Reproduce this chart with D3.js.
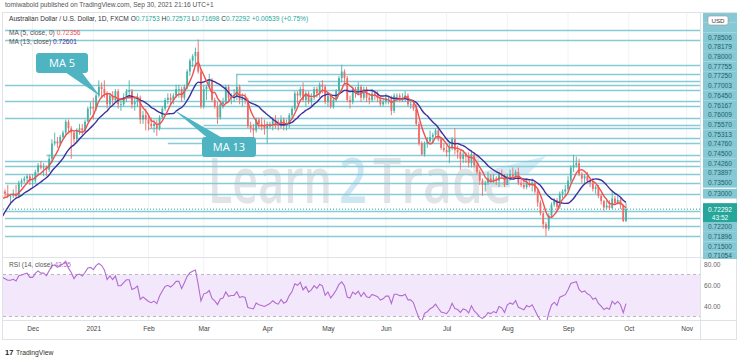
<!DOCTYPE html>
<html><head><meta charset="utf-8">
<script src="https://cdn.jsdelivr.net/npm/d3@7/dist/d3.min.js"></script>
<style>
body{margin:0;background:#fff;}
svg{display:block;font-family:"Liberation Sans",Arial,sans-serif;}
</style></head>
<body><svg id="c" width="740" height="361"></svg>
<script>
// ---------- DATA ----------
const firstDate = "2020-10-27";           // first (warm-up) bar
const holidays = ["2020-12-25","2021-01-01"];
const warmup = 15;                         // bars before the first visible bar (2020-11-17)
const open = [
0.7120,0.7130,0.7080,0.7030,0.7030,0.7040,0.7120,0.7160,0.7270,0.7270,0.7230,0.7280,0.7260,0.7250,0.7290,
0.7310,0.7300,0.7290,0.7290,0.7300,0.7290,0.7350,0.7360,0.7370,0.7380,0.7360,0.7360,0.7400,0.7430,0.7420,
0.7420,0.7410,0.7460,0.7530,0.7540,0.7530,0.7560,0.7580,0.7630,0.7600,0.7580,0.7550,0.7590,0.7600,0.7590,
0.7630,0.7690,0.7700,0.7690,0.7750,0.7790,0.7780,0.7760,0.7710,0.7750,0.7730,0.7770,0.7710,0.7710,0.7740,
0.7770,0.7770,0.7710,0.7720,0.7740,0.7640,0.7660,0.7640,0.7620,0.7610,0.7620,0.7600,0.7650,0.7690,0.7730,
0.7740,0.7730,0.7750,0.7780,0.7780,0.7740,0.7790,0.7860,0.7910,0.7930,0.7950,0.7860,0.7700,0.7780,0.7790,
0.7820,0.7730,0.7700,0.7650,0.7710,0.7720,0.7790,0.7740,0.7750,0.7750,0.7790,0.7730,0.7740,0.7730,0.7610,
0.7600,0.7590,0.7640,0.7620,0.7610,0.7600,0.7610,0.7620,0.7640,0.7620,0.7610,0.7640,0.7610,0.7620,0.7660,
0.7690,0.7760,0.7750,0.7780,0.7730,0.7760,0.7720,0.7740,0.7780,0.7760,0.7800,0.7790,0.7720,0.7750,0.7700,
0.7730,0.7770,0.7830,0.7860,0.7830,0.7730,0.7720,0.7780,0.7760,0.7790,0.7740,0.7780,0.7740,0.7730,0.7760,
0.7750,0.7740,0.7710,0.7720,0.7740,0.7740,0.7680,0.7750,0.7750,0.7740,0.7740,0.7750,0.7710,0.7710,0.7690,
0.7620,0.7530,0.7480,0.7530,0.7540,0.7560,0.7570,0.7590,0.7550,0.7510,0.7500,0.7490,0.7510,0.7550,0.7500,
0.7490,0.7460,0.7480,0.7470,0.7440,0.7480,0.7430,0.7400,0.7360,0.7340,0.7350,0.7370,0.7360,0.7370,0.7360,
0.7390,0.7380,0.7340,0.7380,0.7390,0.7380,0.7400,0.7350,0.7340,0.7330,0.7350,0.7340,0.7350,0.7310,0.7260,
0.7210,0.7160,0.7140,0.7200,0.7250,0.7270,0.7240,0.7300,0.7310,0.7320,0.7360,0.7420,0.7430,0.7440,0.7390,
0.7370,0.7380,0.7360,0.7350,0.7322,0.7330,0.7290,0.7267,0.7237,0.7246,0.7235,0.7278,0.7256,0.7271,0.7247,
0.71753];
const high = [
0.7158,0.7140,0.7100,0.7045,0.7060,0.7140,0.7190,0.7280,0.7290,0.7340,0.7290,0.7300,0.7280,0.7290,0.7330,
0.7320,0.7340,0.7300,0.7320,0.7340,0.7360,0.7370,0.7380,0.7390,0.7390,0.7390,0.7410,0.7440,0.7450,0.7440,
0.7430,0.7480,0.7550,0.7580,0.7560,0.7570,0.7590,0.7640,0.7640,0.7610,0.7590,0.7600,0.7620,0.7620,0.7640,
0.7700,0.7720,0.7740,0.7760,0.7820,0.7810,0.7820,0.7770,0.7760,0.7770,0.7780,0.7780,0.7730,0.7760,0.7780,
0.7820,0.7780,0.7740,0.7760,0.7750,0.7680,0.7690,0.7660,0.7650,0.7640,0.7640,0.7660,0.7700,0.7740,0.7760,
0.7760,0.7760,0.7800,0.7800,0.7790,0.7800,0.7870,0.7920,0.7940,0.7970,0.8007,0.7870,0.7800,0.7800,0.7850,
0.7830,0.7740,0.7720,0.7720,0.7740,0.7800,0.7800,0.7760,0.7780,0.7850,0.7800,0.7760,0.7760,0.7740,0.7630,
0.7620,0.7650,0.7650,0.7650,0.7640,0.7630,0.7630,0.7650,0.7660,0.7640,0.7660,0.7650,0.7640,0.7670,0.7700,
0.7770,0.7770,0.7790,0.7810,0.7770,0.7770,0.7760,0.7790,0.7790,0.7810,0.7820,0.7800,0.7760,0.7760,0.7740,
0.7780,0.7840,0.7891,0.7870,0.7840,0.7750,0.7790,0.7790,0.7810,0.7800,0.7790,0.7790,0.7760,0.7780,0.7770,
0.7770,0.7750,0.7740,0.7760,0.7750,0.7750,0.7760,0.7760,0.7760,0.7760,0.7770,0.7760,0.7730,0.7720,0.7710,
0.7630,0.7540,0.7540,0.7560,0.7590,0.7580,0.7600,0.7600,0.7560,0.7530,0.7520,0.7530,0.7560,0.7600,0.7520,
0.7500,0.7500,0.7490,0.7490,0.7500,0.7490,0.7440,0.7410,0.7370,0.7360,0.7400,0.7390,0.7390,0.7380,0.7400,
0.7410,0.7390,0.7390,0.7410,0.7420,0.7410,0.7420,0.7370,0.7360,0.7370,0.7360,0.7370,0.7360,0.7320,0.7270,
0.7220,0.7170,0.7210,0.7260,0.7280,0.7280,0.7310,0.7320,0.7340,0.7380,0.7430,0.7478,0.7470,0.7460,0.7400,
0.7390,0.7400,0.7370,0.7370,0.7340,0.7340,0.7300,0.7270,0.7270,0.7270,0.7316,0.7290,0.7290,0.7280,0.7250,
0.72573];
const low = [
0.7110,0.7060,0.7020,0.6990,0.7000,0.7030,0.7000,0.7150,0.7230,0.7220,0.7225,0.7250,0.7230,0.7240,0.7270,
0.7280,0.7280,0.7250,0.7280,0.7280,0.7280,0.7330,0.7350,0.7355,0.7340,0.7330,0.7350,0.7380,0.7410,0.7380,
0.7380,0.7400,0.7440,0.7520,0.7510,0.7520,0.7550,0.7570,0.7580,0.7460,0.7530,0.7530,0.7570,0.7570,0.7580,
0.7630,0.7660,0.7640,0.7680,0.7740,0.7740,0.7740,0.7690,0.7700,0.7710,0.7720,0.7690,0.7680,0.7700,0.7720,
0.7740,0.7690,0.7680,0.7700,0.7620,0.7620,0.7590,0.7590,0.7600,0.7580,0.7565,0.7590,0.7640,0.7680,0.7710,
0.7710,0.7710,0.7740,0.7740,0.7720,0.7730,0.7780,0.7840,0.7880,0.7890,0.7850,0.7690,0.7690,0.7730,0.7780,
0.7720,0.7690,0.7620,0.7640,0.7690,0.7710,0.7720,0.7710,0.7720,0.7730,0.7710,0.7700,0.7710,0.7600,0.7580,
0.7560,0.7580,0.7600,0.7590,0.7570,0.7530,0.7600,0.7590,0.7600,0.7590,0.7600,0.7590,0.7590,0.7600,0.7640,
0.7680,0.7710,0.7740,0.7720,0.7700,0.7710,0.7700,0.7730,0.7740,0.7740,0.7760,0.7710,0.7700,0.7690,0.7690,
0.7720,0.7760,0.7810,0.7800,0.7720,0.7690,0.7710,0.7740,0.7750,0.7720,0.7730,0.7720,0.7710,0.7720,0.7730,
0.7720,0.7700,0.7700,0.7710,0.7710,0.7660,0.7670,0.7720,0.7720,0.7720,0.7720,0.7700,0.7690,0.7680,0.7610,
0.7520,0.7477,0.7470,0.7510,0.7530,0.7530,0.7560,0.7540,0.7500,0.7490,0.7470,0.7440,0.7500,0.7480,0.7460,
0.7410,0.7440,0.7440,0.7420,0.7420,0.7420,0.7390,0.7340,0.7290,0.7310,0.7340,0.7350,0.7350,0.7340,0.7330,
0.7370,0.7330,0.7340,0.7360,0.7370,0.7370,0.7340,0.7330,0.7320,0.7320,0.7330,0.7310,0.7300,0.7240,0.7200,
0.7140,0.7106,0.7130,0.7190,0.7240,0.7220,0.7230,0.7280,0.7290,0.7310,0.7350,0.7400,0.7420,0.7380,0.7350,
0.7340,0.7350,0.7330,0.7310,0.7300,0.7280,0.7250,0.7222,0.7230,0.7225,0.7230,0.7250,0.7250,0.7230,0.7170,
0.71698];
const close = [
0.7130,0.7080,0.7030,0.7030,0.7040,0.7120,0.7160,0.7270,0.7270,0.7230,0.7280,0.7260,0.7250,0.7290,0.7310,
0.7300,0.7290,0.7290,0.7300,0.7290,0.7350,0.7360,0.7370,0.7380,0.7360,0.7360,0.7400,0.7430,0.7420,0.7420,
0.7410,0.7460,0.7530,0.7540,0.7530,0.7560,0.7580,0.7630,0.7600,0.7580,0.7550,0.7590,0.7600,0.7590,0.7630,
0.7690,0.7700,0.7690,0.7750,0.7790,0.7780,0.7760,0.7710,0.7750,0.7730,0.7770,0.7710,0.7710,0.7740,0.7770,
0.7770,0.7710,0.7720,0.7740,0.7640,0.7660,0.7640,0.7620,0.7610,0.7620,0.7600,0.7650,0.7690,0.7730,0.7740,
0.7730,0.7750,0.7780,0.7780,0.7740,0.7790,0.7860,0.7910,0.7930,0.7950,0.7860,0.7700,0.7780,0.7790,0.7820,
0.7730,0.7700,0.7650,0.7710,0.7720,0.7790,0.7740,0.7750,0.7750,0.7790,0.7730,0.7740,0.7730,0.7610,0.7600,
0.7590,0.7640,0.7620,0.7610,0.7600,0.7610,0.7620,0.7640,0.7620,0.7610,0.7640,0.7610,0.7620,0.7660,0.7690,
0.7760,0.7750,0.7780,0.7730,0.7760,0.7720,0.7740,0.7780,0.7760,0.7800,0.7790,0.7720,0.7750,0.7700,0.7730,
0.7770,0.7830,0.7860,0.7830,0.7730,0.7720,0.7780,0.7760,0.7790,0.7740,0.7780,0.7740,0.7730,0.7760,0.7750,
0.7740,0.7710,0.7720,0.7740,0.7740,0.7680,0.7750,0.7750,0.7740,0.7740,0.7750,0.7710,0.7710,0.7690,0.7620,
0.7530,0.7480,0.7530,0.7540,0.7560,0.7570,0.7590,0.7550,0.7510,0.7500,0.7490,0.7510,0.7550,0.7500,0.7490,
0.7460,0.7480,0.7470,0.7440,0.7480,0.7430,0.7400,0.7360,0.7340,0.7350,0.7370,0.7360,0.7370,0.7360,0.7390,
0.7380,0.7340,0.7380,0.7390,0.7380,0.7400,0.7350,0.7340,0.7330,0.7350,0.7340,0.7350,0.7310,0.7260,0.7210,
0.7160,0.7140,0.7200,0.7250,0.7270,0.7240,0.7300,0.7310,0.7320,0.7360,0.7420,0.7430,0.7440,0.7390,0.7370,
0.7380,0.7360,0.7350,0.7322,0.7330,0.7290,0.7267,0.7237,0.7246,0.7235,0.7278,0.7256,0.7271,0.7247,0.71753,
0.72292];

// horizontal levels drawn on the chart: price and the date the ray starts
const levelPrices = [0.80500,0.80070,0.78900,0.78506,0.78179,0.78000,0.77755,0.77250,0.77003,0.76450,0.76167,0.76009,
  0.75570,0.75313,0.74760,0.74500,0.74260,0.73897,0.73500,0.73000,0.72200,0.71896,0.71500,0.71054];
const levelStart = ["2020-11-17","2020-11-17","2021-02-22","2021-03-17","2021-03-23","2020-11-17","2021-01-20","2020-11-17",
  "2021-01-05","2020-11-17","2021-03-01","2021-02-01","2020-12-23","2021-02-10","2020-12-08","2020-11-17","2020-11-17",
  "2020-11-17","2020-11-17","2020-11-17","2020-11-17","2020-11-17","2020-11-17","2020-11-17"];
const tickDates = ["2020-12-01","2021-01-04","2021-02-01","2021-03-01","2021-04-01","2021-05-03","2021-06-01","2021-07-01",
  "2021-08-02","2021-09-01","2021-10-01","2021-11-01"];
const tickLabels = ["Dec","2021","Feb","Mar","Apr","May","Jun","Jul","Aug","Sep","Oct","Nov"];
const rsiTicks = [40,60,80];
const lastPrice = 0.72292, countdown = "43:52";
const legendOHLC = ["0.71753","0.72573","0.71698","0.72292","+0.00539 (+0.75%)"];
const legendMA5 = "0.72356", legendMA13 = "0.72601", legendRSI = "43.55";

// ---------- dates (weekdays, minus holidays) ----------
const fmt = d3.utcFormat("%Y-%m-%d");
const allDates = [];
{ let d = new Date(firstDate+"T00:00:00Z");
  while (allDates.length < 270) {
    const wd = d.getUTCDay(), s = fmt(d);
    if (wd!==0 && wd!==6 && !holidays.includes(s)) allDates.push(s);
    d = new Date(d.getTime()+86400000);
  } }
const idxOf = s => allDates.indexOf(s) - warmup;

const bars = close.map((c,i)=>({i:i-warmup, o:open[i], h:high[i], l:low[i], c}));
function sma(n){ return close.map((c,i)=> i<n-1?null:{i:i-warmup, v:d3.mean(close.slice(i-n+1,i+1))}).filter(Boolean); }
const ma5 = sma(5), ma13 = sma(13);
// RSI 14 (Wilder)
const rsi = []; { let ag=0, al=0; for (let i=1;i<close.length;i++){ const ch=close[i]-close[i-1];
  const g=Math.max(ch,0), l=Math.max(-ch,0);
  if (i<=14){ ag+=g/14; al+=l/14; if(i===14) rsi.push({i:i-warmup, v:100-100/(1+ag/al)}); }
  else { ag=(ag*13+g)/14; al=(al*13+l)/14; rsi.push({i:i-warmup, v:100-100/(1+ag/al)}); } } }

// ---------- layout ----------
const svg = d3.select("#c");
const L=3, R=700, pTop=13, pBot=257, rTop=258, rBot=320, aBot=339;
const x = d3.scaleLinear().domain([0,225]).range([5,626]);
const y = d3.scaleLinear().domain([0.7106,0.8007]).range([236,39.5]);
const yr = d3.scaleLinear().domain([30,70]).range([316.5,274.5]);

svg.append("text").attr("x",5).attr("y",7).attr("font-size",6.6).attr("fill","#555")
  .text("tomiwabold published on TradingView.com, Sep 30, 2021 21:16 UTC+1");

// frame
svg.append("rect").attr("x",L-0.5).attr("y",pTop-0.5).attr("width",737-L).attr("height",aBot-pTop+1)
  .attr("fill","none").attr("stroke","#dfe3e8");
const defs = svg.append("defs");
defs.append("clipPath").attr("id","cp").append("rect").attr("x",L).attr("y",pTop).attr("width",R-L).attr("height",pBot-pTop);
defs.append("clipPath").attr("id","cr").append("rect").attr("x",L).attr("y",rTop).attr("width",R-L).attr("height",rBot-rTop);
defs.append("clipPath").attr("id","cl").append("rect").attr("x",700).attr("y",pTop).attr("width",40).attr("height",pBot-pTop+2);

// vertical grid
const tickIdx = tickDates.map(idxOf);
svg.append("g").selectAll("line").data(tickIdx).join("line")
  .attr("x1",d=>x(d)).attr("x2",d=>x(d)).attr("y1",pTop).attr("y2",rBot)
  .attr("stroke","#f0f2f5");

// watermark
svg.append("path").attr("d","M466,176 L546,156 L528,174 Z").attr("fill","#d6ecf6");
const wmParts = [["Learn",208,124,"#e1e3e6"],["2",339,28,"#cde6f2"],["Trade",373,139,"#e1e3e6"]];
wmParts.forEach(([t,x0,w,c])=>svg.append("text").attr("x",x0).attr("y",203).attr("font-size",64).attr("font-weight",600)
  .attr("font-family","'Open Sans',sans-serif").attr("textLength",w).attr("lengthAdjust","spacingAndGlyphs")
  .attr("fill",c).text(t));

const gP = svg.append("g").attr("clip-path","url(#cp)");
// levels
gP.append("g").selectAll("line").data(levelPrices).join("line")
  .attr("x1",(d,k)=>Math.max(L,x(idxOf(levelStart[k])))).attr("x2",R)
  .attr("y1",d=>Math.round(y(d))+0.5).attr("y2",d=>Math.round(y(d))+0.5)
  .attr("stroke","#86cbd6").attr("stroke-width",1.3);
// last price dotted
gP.append("line").attr("x1",L).attr("x2",R).attr("y1",y(lastPrice)).attr("y2",y(lastPrice))
  .attr("stroke","#26a69a").attr("stroke-dasharray","1,2").attr("stroke-width",1);
// candles
const up="#46b3a6", dn="#ef6b68";
const cg = gP.append("g").selectAll("g").data(bars).join("g");
cg.append("line").attr("x1",d=>x(d.i)).attr("x2",d=>x(d.i)).attr("y1",d=>y(d.h)).attr("y2",d=>y(d.l))
  .attr("stroke",d=>d.c>=d.o?up:dn).attr("stroke-width",0.9);
cg.append("rect").attr("x",d=>x(d.i)-0.9).attr("width",1.8)
  .attr("y",d=>y(Math.max(d.o,d.c))).attr("height",d=>Math.max(0.8,Math.abs(y(d.o)-y(d.c))))
  .attr("fill",d=>d.c>=d.o?up:dn);
const line = d3.line().x(d=>x(d.i)).y(d=>y(d.v)).curve(d3.curveMonotoneX);
gP.append("path").datum(ma13).attr("d",line).attr("fill","none").attr("stroke","#3e2f9c").attr("stroke-width",1.4);
gP.append("path").datum(ma5).attr("d",line).attr("fill","none").attr("stroke","#f0504e").attr("stroke-width",1.4);

// callouts
function callout(bx,by,bw,bh,tip,base,label){
  const g=svg.append("g");
  g.append("path").attr("d",`M${base[0]},${base[1]}L${tip[0]},${tip[1]}L${base[2]},${base[3]}Z`).attr("fill","#4fb4c1");
  g.append("rect").attr("x",bx).attr("y",by).attr("width",bw).attr("height",bh).attr("rx",3).attr("fill","#4fb4c1");
  g.append("text").attr("x",bx+bw/2).attr("y",by+bh/2+4).attr("text-anchor","middle").attr("font-size",11)
    .attr("fill","#fff").attr("font-family","'Open Sans',sans-serif").text(label);
}
callout(36,53,52,20,[100,96],[62,70,80,70],"MA 5");
callout(202,137,54,20,[174,110],[210,140,226,140],"MA 13");

// legend texts
const t1 = svg.append("text").attr("x",9).attr("y",21).attr("font-size",6.6).attr("fill","#333");
t1.append("tspan").text("Australian Dollar / U.S. Dollar, 1D, FXCM  O");
t1.append("tspan").attr("fill","#26a69a").text(legendOHLC[0]);
t1.append("tspan").text(" H");
t1.append("tspan").attr("fill","#26a69a").text(legendOHLC[1]);
t1.append("tspan").text(" L");
t1.append("tspan").attr("fill","#26a69a").text(legendOHLC[2]);
t1.append("tspan").text(" C");
t1.append("tspan").attr("fill","#26a69a").text(legendOHLC[3]+" "+legendOHLC[4]);
const t2 = svg.append("text").attr("x",9).attr("y",35).attr("font-size",6.6).attr("fill","#555");
t2.append("tspan").text("MA (5, close, 0) ");
t2.append("tspan").attr("fill","#f0504e").text(legendMA5);
const t3 = svg.append("text").attr("x",9).attr("y",44).attr("font-size",6.6).attr("fill","#555");
t3.append("tspan").text("MA (13, close) ");
t3.append("tspan").attr("fill","#3e2f9c").text(legendMA13);

// RSI pane
svg.append("line").attr("x1",L).attr("x2",737).attr("y1",pBot+0.5).attr("y2",pBot+0.5).attr("stroke","#dfe3e8");
const gR = svg.append("g").attr("clip-path","url(#cr)");
gR.append("rect").attr("x",L).attr("width",R-L).attr("y",yr(70)).attr("height",yr(30)-yr(70)).attr("fill","#f3e8fb");
[70,30].forEach(v=>gR.append("line").attr("x1",L).attr("x2",R).attr("y1",yr(v)).attr("y2",yr(v))
  .attr("stroke","#b8b8c0").attr("stroke-dasharray","3,3"));
gR.append("path").datum(rsi).attr("d",d3.line().x(d=>x(d.i)).y(d=>yr(d.v))).attr("fill","none")
  .attr("stroke","#b26bd0").attr("stroke-width",1.1);
const tr = svg.append("text").attr("x",9).attr("y",267).attr("font-size",6.6).attr("fill","#555");
tr.append("tspan").text("RSI (14, close) ");
tr.append("tspan").attr("fill","#b26bd0").text(legendRSI);
const rAxis = d3.axisRight(yr).tickValues(rsiTicks).tickFormat(d3.format(".2f")).tickSize(0).tickPadding(0);
svg.append("g").attr("transform",`translate(704,0)`).call(rAxis)
  .call(g=>g.select(".domain").remove())
  .call(g=>g.selectAll("text").attr("font-size",6.6).attr("fill","#666").attr("font-family","'Liberation Sans',Arial,sans-serif"));

// time axis
svg.append("line").attr("x1",L).attr("x2",737).attr("y1",rBot+0.5).attr("y2",rBot+0.5).attr("stroke","#dfe3e8");
const xAxis = d3.axisBottom(x).tickValues(tickIdx).tickFormat((d,k)=>tickLabels[k]).tickSize(0).tickPadding(6);
svg.append("g").attr("transform",`translate(0,${rBot})`).call(xAxis)
  .call(g=>g.select(".domain").remove())
  .call(g=>g.selectAll("text").attr("font-size",6.6).attr("fill","#444").attr("font-family","'Liberation Sans',Arial,sans-serif"));

// price axis separator
svg.append("line").attr("x1",R+0.5).attr("x2",R+0.5).attr("y1",pTop).attr("y2",aBot).attr("stroke","#dfe3e8");

// price labels (stacked like TradingView)
const lh = 9.7;
const above = levelPrices.filter(p=>p>lastPrice).sort((a,b)=>a-b);
const below = levelPrices.filter(p=>p<lastPrice).sort((a,b)=>b-a);
const lbls=[]; let prev = y(lastPrice)-6;
above.forEach(p=>{ let c=Math.min(y(p), prev-lh/2-(lbls.length?0:1)); lbls.push({p,c}); prev=c-lh/2; });
prev = y(lastPrice)+13;
below.forEach(p=>{ let c=Math.max(y(p), prev+lh/2); lbls.push({p,c}); prev=c+lh/2; });
const shown = lbls.filter(d=>d.c-lh/2>=pTop-6);
const gL = svg.append("g").attr("clip-path","url(#cl)");
gL.selectAll("rect").data(shown).join("rect").attr("x",703).attr("width",34).attr("y",d=>d.c-lh/2).attr("height",lh)
  .attr("fill","#86c9d4");
gL.selectAll("text").data(shown.filter(d=>d.c>28)).join("text").attr("x",720).attr("y",d=>d.c+2.4).attr("text-anchor","middle")
  .attr("font-size",6.6).attr("fill","#1f5f6b").text(d=>d3.format(".5f")(d.p));
// last price
svg.append("rect").attr("x",703).attr("width",34).attr("y",y(lastPrice)-6).attr("height",19).attr("fill","#26a69a");
svg.append("text").attr("x",720).attr("y",y(lastPrice)+2.4).attr("text-anchor","middle").attr("font-size",6.6)
  .attr("fill","#fff").text(d3.format(".5f")(lastPrice));
svg.append("text").attr("x",720).attr("y",y(lastPrice)+10.5).attr("text-anchor","middle").attr("font-size",6.6)
  .attr("fill","#e6fff9").text(countdown);
// USD badge
svg.append("rect").attr("x",708).attr("y",16).attr("width",20).attr("height",9).attr("rx",2).attr("fill","#fff").attr("stroke","#999").attr("stroke-width",0.6);
svg.append("text").attr("x",718).attr("y",23).attr("text-anchor","middle").attr("font-size",6.2).attr("fill","#333").text("USD");

// footer
svg.append("text").attr("x",5).attr("y",355).attr("font-size",7.5).attr("font-weight","bold").attr("fill","#222").text("17");
svg.append("text").attr("x",16).attr("y",355).attr("font-size",6.8).attr("fill","#333").text("TradingView");
</script></body></html>
